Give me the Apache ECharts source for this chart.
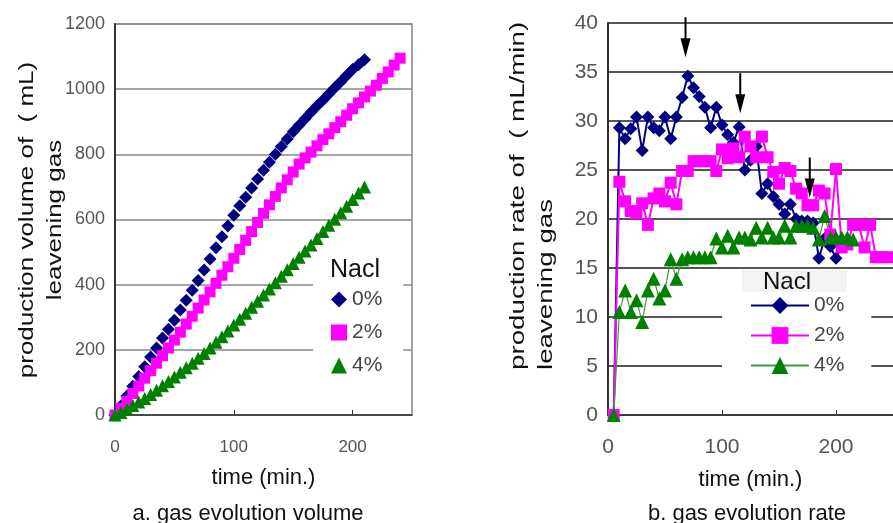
<!DOCTYPE html>
<html>
<head>
<meta charset="utf-8">
<script src="https://cdn.jsdelivr.net/npm/echarts@6/dist/echarts.min.js"></script>
<style>
  html, body { margin: 0; padding: 0; background: #fff; }
  #chart { width: 893px; height: 523px; }
</style>
</head>
<body>
<div id="chart"></div>
<script>
// sampling times (min.)
const minutes = [0, 5, 10, 15, 20, 25, 30, 35, 40, 45, 50, 55, 60, 65, 70, 75, 80, 85, 90, 95,
  100, 105, 110, 115, 120, 125, 130, 135, 140, 145, 150, 155, 160, 165, 170, 175, 180, 185, 190, 195,
  200, 205, 210, 215, 220, 225, 230, 235, 240, 245];
const saltLevels = ["0%", "2%", "4%"];

// a. gas evolution volume (mL), from 0 min
const volume0 = [0, 28, 58, 88, 118, 148, 178, 206, 236, 263, 291, 322, 352, 383, 413, 445, 479, 513, 547, 580,
  613, 642, 668, 697, 724, 751, 776, 800, 824, 847, 869, 889, 909, 929, 948, 966, 985, 1004, 1023, 1042,
  1060, 1075, 1090];
const volume2 = [0, 20, 42, 66, 89, 113, 136, 159, 182, 206, 230, 254, 279, 303, 328, 353, 378, 404, 429, 455,
  481, 508, 536, 563, 591, 619, 645, 671, 697, 722, 746, 770, 789, 807, 826, 845, 863, 882, 900, 920,
  940, 958, 976, 994, 1012, 1033, 1053, 1074, 1095];
const volume4 = [0, 8, 18, 29, 40, 51, 63, 76, 90, 103, 117, 131, 145, 159, 174, 189, 206, 223, 240, 258,
  276, 294, 312, 331, 349, 368, 387, 406, 426, 446, 465, 484, 503, 522, 542, 563, 582, 601, 621, 641,
  661, 681, 700];

// b. gas evolution rate (mL/min), from 5 min
const rate0 = [0, 29.3, 28.2, 29.2, 30.4, 27.0, 30.4, 29.3, 29.0, 30.4, 28.2, 30.4, 32.4, 34.6, 33.4, 32.5, 31.4, 29.3, 31.4,
  29.6, 28.6, 27.8, 29.4, 25.0, 26.0, 27.4, 22.6, 23.6, 22.3, 21.5, 20.5, 21.5, 20.0, 19.8, 19.8, 19.6, 16.0, 18.0, 17.2,
  16.0, 17.2, 17.5];
const rate2 = [0, 23.8, 21.8, 20.8, 20.6, 21.6, 19.4, 22.1, 22.6, 21.8, 23.7, 21.5, 24.9, 24.9, 25.9, 25.9, 25.9, 25.9, 24.9,
  27.1, 26.2, 27.2, 26.3, 28.4, 27.4, 26.3, 28.4, 26.3, 24.8, 23.6, 25.2, 24.9, 23.1, 22.6, 21.4, 21.4, 22.9, 22.6, 18.4,
  25.1, 17.1, 17.4, 19.4, 19.4, 17.1, 19.4, 16.1, 16.1, 16.1];
const rate4 = [0, 10.5, 12.7, 10.5, 11.7, 9.5, 12.7, 13.9, 11.9, 12.7, 15.9, 13.9, 15.9, 16.1, 16.1, 16.1, 16.1, 16.1, 18.0,
  17.1, 18.3, 17.1, 18.1, 18.1, 17.9, 19.1, 18.1, 19.1, 18.1, 18.1, 19.3, 18.1, 19.3, 19.3, 19.3, 19.1, 17.9, 20.3, 18.1,
  18.1, 18.1, 18.1, 17.9];

// arrow tips on the rate chart [min, mL/min]
const arrowAt = [[68, 36.5], [116, 30.8], [177, 22.2]];

function pairs(values, offset) {
  return values.map(function (v, i) { return [minutes[i + offset], v]; });
}

const colors = ["#000080", "#ff00ff", "#008000"];
const font = "Liberation Sans, Arial, sans-serif";
const arrowPath = "path://M4,0 L6,0 L6,21 L10,21 L5,40 L0,21 L4,21 Z";

var myChart = echarts.init(document.getElementById("chart"));

var option = {
  animation: false,
  textStyle: { fontFamily: font },
  grid: [
    { left: 115, top: 24, width: 297, height: 391, show: true, borderColor: "#888", borderWidth: 1.5 },
    { left: 608, top: 23, width: 292, height: 392 },
  ],
  xAxis: [
    {
      gridIndex: 0, type: "value", min: 0, max: 250, interval: 100,
      name: "time (min.)", nameLocation: "middle", nameGap: 52,
      nameTextStyle: { fontSize: 22, color: "#111" },
      axisLine: { lineStyle: { color: "#333", width: 1.5 } },
      axisTick: { inside: true, length: 5, lineStyle: { color: "#333" } },
      axisLabel: { margin: 24, fontSize: 17, color: "#555", showMaxLabel: false },
      splitLine: { show: false },
    },
    {
      gridIndex: 1, type: "value", min: 0, max: 250, interval: 100,
      name: "time (min.)", nameLocation: "middle", nameGap: 54,
      nameTextStyle: { fontSize: 22, color: "#111" },
      axisLine: { lineStyle: { color: "#333", width: 1.5 } },
      axisTick: { inside: true, length: 5, lineStyle: { color: "#333" } },
      axisLabel: { margin: 22, fontSize: 21, color: "#555", showMaxLabel: false },
      splitLine: { show: false },
    },
  ],
  yAxis: [
    {
      gridIndex: 0, type: "value", min: 0, max: 1200, interval: 200,
      axisLine: { show: true, lineStyle: { color: "#333", width: 2 } },
      axisTick: { show: false },
      axisLabel: { margin: 10, fontSize: 18, color: "#555", formatter: function (v) { return String(v); } },
      splitLine: { lineStyle: { color: "#888", width: 1.5 } },
    },
    {
      gridIndex: 1, type: "value", min: 0, max: 40, interval: 5,
      axisLine: { show: true, lineStyle: { color: "#333", width: 2 } },
      axisTick: { show: false },
      axisLabel: { margin: 10, fontSize: 21, color: "#555" },
      splitLine: { lineStyle: { color: "#555", width: 2 } },
    },
  ],
  legend: [
    {
      data: saltLevels.map(function (s) { return "volume " + s; }),
      formatter: function (name) { return name.replace("volume ", ""); },
      orient: "vertical", left: 313, top: 283,
      padding: [6, 21, 6, 18], itemGap: 12, itemWidth: 16, itemHeight: 16,
      backgroundColor: "#fff", selectedMode: false,
      textStyle: { fontSize: 21, color: "#444" },
    },
    {
      data: saltLevels.map(function (s) { return "rate " + s; }),
      formatter: function (name) { return name.replace("rate ", ""); },
      orient: "vertical", left: 722, top: 292,
      padding: [3, 27, 3, 28], itemGap: 9, itemWidth: 58, itemHeight: 21,
      backgroundColor: "#fff", selectedMode: false,
      textStyle: { fontSize: 21, color: "#444" },
    },
  ],
  series: [
    {
      name: "volume 0%", type: "scatter", xAxisIndex: 0, yAxisIndex: 0,
      symbol: "diamond", symbolSize: 13, itemStyle: { color: colors[0], opacity: 1 },
      data: pairs(volume0, 0),
    },
    {
      name: "volume 2%", type: "scatter", xAxisIndex: 0, yAxisIndex: 0,
      symbol: "rect", symbolSize: 11, itemStyle: { color: colors[1], opacity: 1 },
      data: pairs(volume2, 0),
    },
    {
      name: "volume 4%", type: "scatter", xAxisIndex: 0, yAxisIndex: 0,
      symbol: "triangle", symbolSize: 13, itemStyle: { color: colors[2], opacity: 1 },
      data: pairs(volume4, 0),
    },
    {
      name: "rate 0%", type: "line", xAxisIndex: 1, yAxisIndex: 1,
      symbol: "diamond", symbolSize: 13, showAllSymbol: true,
      lineStyle: { color: colors[0], width: 2 }, itemStyle: { color: colors[0] },
      data: pairs(rate0, 1),
      markPoint: {
        symbol: arrowPath, symbolSize: [10, 40], symbolOffset: [0, "-50%"],
        itemStyle: { color: "#000" }, label: { show: false }, silent: true,
        data: arrowAt.map(function (c) { return { coord: c }; }),
      },
    },
    {
      name: "rate 2%", type: "line", xAxisIndex: 1, yAxisIndex: 1,
      symbol: "rect", symbolSize: 12, showAllSymbol: true,
      lineStyle: { color: colors[1], width: 2 }, itemStyle: { color: colors[1] },
      data: pairs(rate2, 1),
    },
    {
      name: "rate 4%", type: "line", xAxisIndex: 1, yAxisIndex: 1,
      symbol: "triangle", symbolSize: 14, showAllSymbol: true,
      lineStyle: { color: "#3c9a3c", width: 1.2 }, itemStyle: { color: colors[2] },
      data: pairs(rate4, 1),
    },
  ],
  graphic: [
    // y axis titles
    {
      type: "text", x: 27, y: 220, rotation: Math.PI / 2, scaleX: 1.3,
      style: { text: "production volume of  ( mL)", font: "20px " + font, fill: "#111", textAlign: "center", textVerticalAlign: "middle" },
    },
    {
      type: "text", x: 55, y: 220, rotation: Math.PI / 2, scaleX: 1.3,
      style: { text: "leavening gas", font: "20px " + font, fill: "#111", textAlign: "center", textVerticalAlign: "middle" },
    },
    {
      type: "text", x: 518, y: 370, rotation: Math.PI / 2, scaleX: 1.32,
      style: { text: "production rate of  ( mL/min)", font: "21px " + font, fill: "#111", textAlign: "left", textVerticalAlign: "middle" },
    },
    {
      type: "text", x: 546, y: 370, rotation: Math.PI / 2, scaleX: 1.32,
      style: { text: "leavening gas", font: "21px " + font, fill: "#111", textAlign: "left", textVerticalAlign: "middle" },
    },
    // legend titles
    {
      type: "text", x: 355, y: 270,
      style: { text: "Nacl", font: "25px " + font, fill: "#111", textAlign: "center", textVerticalAlign: "middle" },
    },
    {
      type: "rect", shape: { x: 742, y: 270, width: 105, height: 23 },
      style: { fill: "#f3f3f3" },
    },
    {
      type: "text", x: 787, y: 282,
      style: { text: "Nacl", font: "24px " + font, fill: "#111", textAlign: "center", textVerticalAlign: "middle" },
    },
    // captions
    {
      type: "text", x: 248, y: 514,
      style: { text: "a. gas evolution volume", font: "22px " + font, fill: "#111", textAlign: "center", textVerticalAlign: "middle" },
    },
    {
      type: "text", x: 747, y: 514,
      style: { text: "b. gas evolution rate", font: "22px " + font, fill: "#111", textAlign: "center", textVerticalAlign: "middle" },
    },
  ],
};

myChart.setOption(option);
</script>
</body>
</html>
